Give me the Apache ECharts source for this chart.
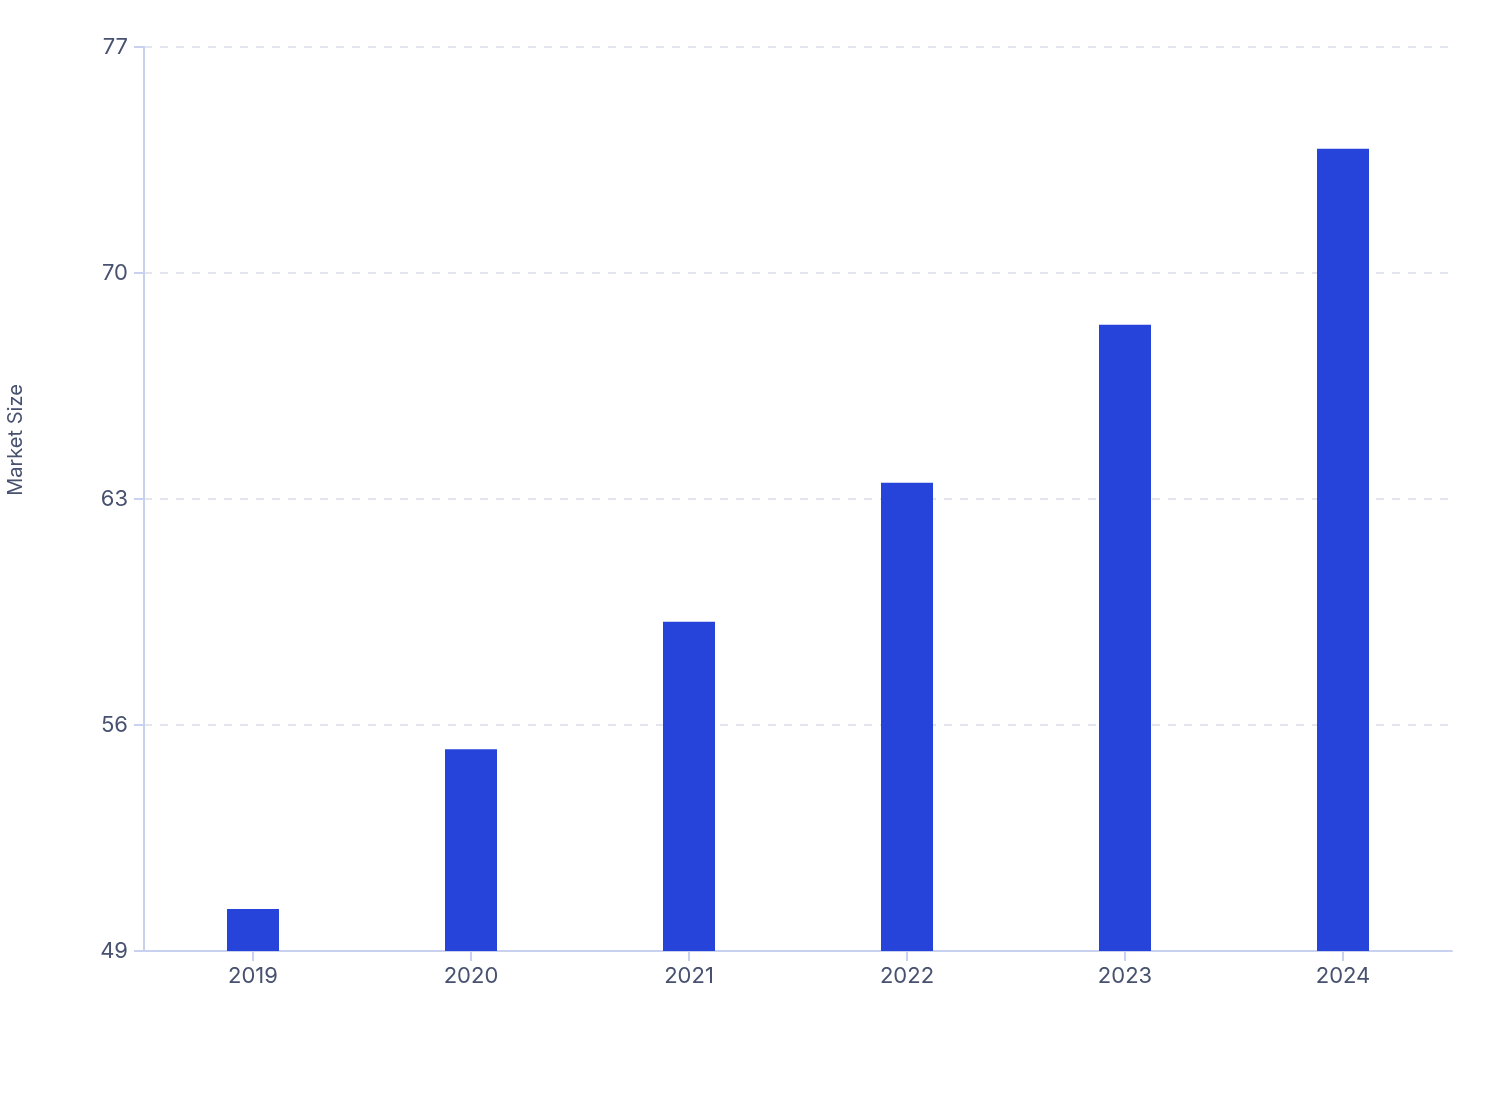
<!DOCTYPE html>
<html>
<head>
<meta charset="utf-8">
<title>Market Size</title>
<script src="https://cdn.jsdelivr.net/npm/echarts@6/dist/echarts.min.js"></script>
<style>
    html, body { margin: 0; padding: 0; background: #fff; }
    #chart { width: 1508px; height: 1120px; }
</style>
</head>
<body>
<div id="chart"></div>
<script>
// 数据
var years = ['2019', '2020', '2021', '2022', '2023', '2024'];
var marketSize = [50.3, 55.25, 59.2, 63.5, 68.4, 73.85];

var axisColor = '#c8d2f0';
var textColor = '#485270';
var fontName = 'Inter, "Noto Sans", sans-serif';

window.onload = function(){
    var myChart = echarts.init(document.getElementById('chart'));

    var option = {
        animation: false,
        textStyle: { fontFamily: fontName },
        grid: { left: 144, right: 56, top: 47, bottom: 169 },
        // y 轴名称单独放
        graphic: [{
            type: 'text',
            x: 16, y: 440,
            rotation: Math.PI / 2,
            style: {
                text: 'Market Size',
                fill: textColor,
                font: '20px ' + fontName,
                align: 'center',
                verticalAlign: 'middle'
            }
        }],
        xAxis: {
            type: 'category',
            data: years,
            axisLine: { lineStyle: { color: axisColor, width: 2 } },
            axisTick: { show: true, alignWithLabel: true, length: 10, lineStyle: { color: axisColor, width: 2 } },
            axisLabel: { color: textColor, fontSize: 22, margin: 14 }
        },
        yAxis: {
            type: 'value',
            min: 49,
            max: 77,
            interval: 7,
            axisLine: { show: true, lineStyle: { color: axisColor, width: 2 } },
            axisTick: { show: true, length: 10, lineStyle: { color: axisColor, width: 2 } },
            axisLabel: { color: textColor, fontSize: 22, margin: 16 },
            splitLine: { lineStyle: { color: '#e3e6ee', type: [8, 8], width: 2 } }
        },
        series: [{
            name: 'Market Size',
            type: 'bar',
            data: marketSize,
            barWidth: 52,
            itemStyle: { color: '#2644d9' }
        }]
    };

    myChart.setOption(option);
}
</script>
</body>
</html>
